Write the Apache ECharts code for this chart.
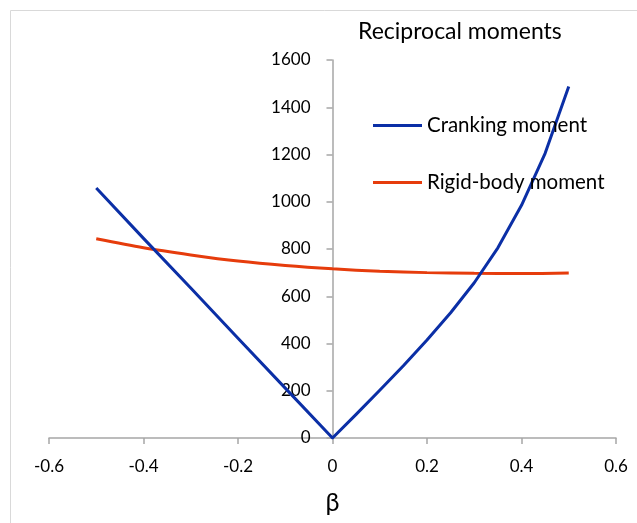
<!DOCTYPE html>
<html>
<head>
<meta charset="utf-8">
<script src="https://cdn.jsdelivr.net/npm/echarts@6/dist/echarts.min.js"></script>
<style>
html,body{margin:0;padding:0;background:#fff;}
#chart{width:637px;height:523px;}
</style>
</head>
<body>
<div id="chart"></div>
<script>
var titleText = "Reciprocal moments";
var seriesNames = ["Cranking moment", "Rigid-body moment"];
var xTicks = [-0.6, -0.4, -0.2, 0, 0.2, 0.4, 0.6];
var yTicks = [0, 200, 400, 600, 800, 1000, 1200, 1400, 1600];
var crankingBeta = [-0.5, -0.4, -0.3, -0.2, -0.1, 0, 0.05, 0.1, 0.15, 0.2, 0.25, 0.3, 0.35, 0.4, 0.45, 0.5];
var crankingValues = [1058, 845, 635, 422, 211, 0, 100, 202, 306, 415, 530, 657, 805, 985, 1205, 1488];
var rigidBeta = [-0.5, -0.4, -0.3, -0.2, -0.1, 0, 0.1, 0.2, 0.3, 0.4, 0.5];
var rigidValues = [843, 805, 775, 749, 730, 716, 706, 700, 697, 696, 698];

function pairs(xs, ys){ return xs.map(function(x,i){ return [x, ys[i]]; }); }

var GRID_LEFT = 49;
var chart = echarts.init(document.getElementById('chart'), null, {renderer:'canvas'});
var font = 'Lato, "Open Sans", sans-serif';
var option = {
  animation:false,
  textStyle:{fontFamily:font},
  graphic:[{type:'rect', shape:{x:10.5,y:10.5,width:700,height:600}, style:{fill:'none', stroke:'#d9d9d9', lineWidth:1}, z:-1}],
  title:{text:titleText, left:358, top:20, padding:0, textStyle:{fontSize:23, fontWeight:'normal', color:'#000', fontFamily:font}},
  legend:{orient:'vertical', left:373, top:115, padding:0, itemWidth:49, itemHeight:3, itemGap:36, icon:'rect',
    textStyle:{fontSize:20.5, color:'#000', fontFamily:font},
    data:seriesNames},
  grid:{left:GRID_LEFT, right:21, top:60, bottom:85, outerBoundsMode:'none', containLabel:false},
  xAxis:{type:'value', min:xTicks[0], max:xTicks[xTicks.length-1], interval:xTicks[1]-xTicks[0],
    name:'β', nameLocation:'middle', nameGap:52, nameTextStyle:{fontSize:25, color:'#000', fontFamily:font},
    axisLine:{onZero:true, lineStyle:{color:'#a6a6a6', width:1.5}},
    axisTick:{show:true, length:6, lineStyle:{color:'#a6a6a6', width:1.5}},
    axisLabel:{fontSize:17, color:'#000', margin:20, fontFamily:font,
      formatter:function(v){ return (Math.round(v*10)/10).toString(); }},
    splitLine:{show:false}},
  yAxis:{type:'value', min:yTicks[0], max:yTicks[yTicks.length-1], interval:yTicks[1]-yTicks[0],
    position:'left', offset:0,
    axisLine:{show:true, onZero:false, lineStyle:{color:'#a6a6a6', width:1.5}},
    axisTick:{show:true, length:6, lineStyle:{color:'#a6a6a6', width:1.5}},
    axisLabel:{fontSize:17, color:'#000', margin:22, fontFamily:font,
      formatter:function(v){ return String(v); }},
    splitLine:{show:false}},
  series:[
    {name:seriesNames[0], type:'line', data:pairs(crankingBeta, crankingValues), smooth:false, showSymbol:false,
     lineStyle:{color:'#0b2fa6', width:3, join:'round'}, itemStyle:{color:'#0b2fa6'}, z:3},
    {name:seriesNames[1], type:'line', data:pairs(rigidBeta, rigidValues), smooth:0.3, showSymbol:false,
     lineStyle:{color:'#e63c0c', width:3}, itemStyle:{color:'#e63c0c'}, z:2}
  ]
};
chart.setOption(option);
// move the y axis (line, ticks and labels) to beta = 0
var zeroX = chart.convertToPixel({xAxisIndex:0}, 0);
chart.setOption({yAxis:{offset:-(zeroX - GRID_LEFT)}});
</script>
</body>
</html>
